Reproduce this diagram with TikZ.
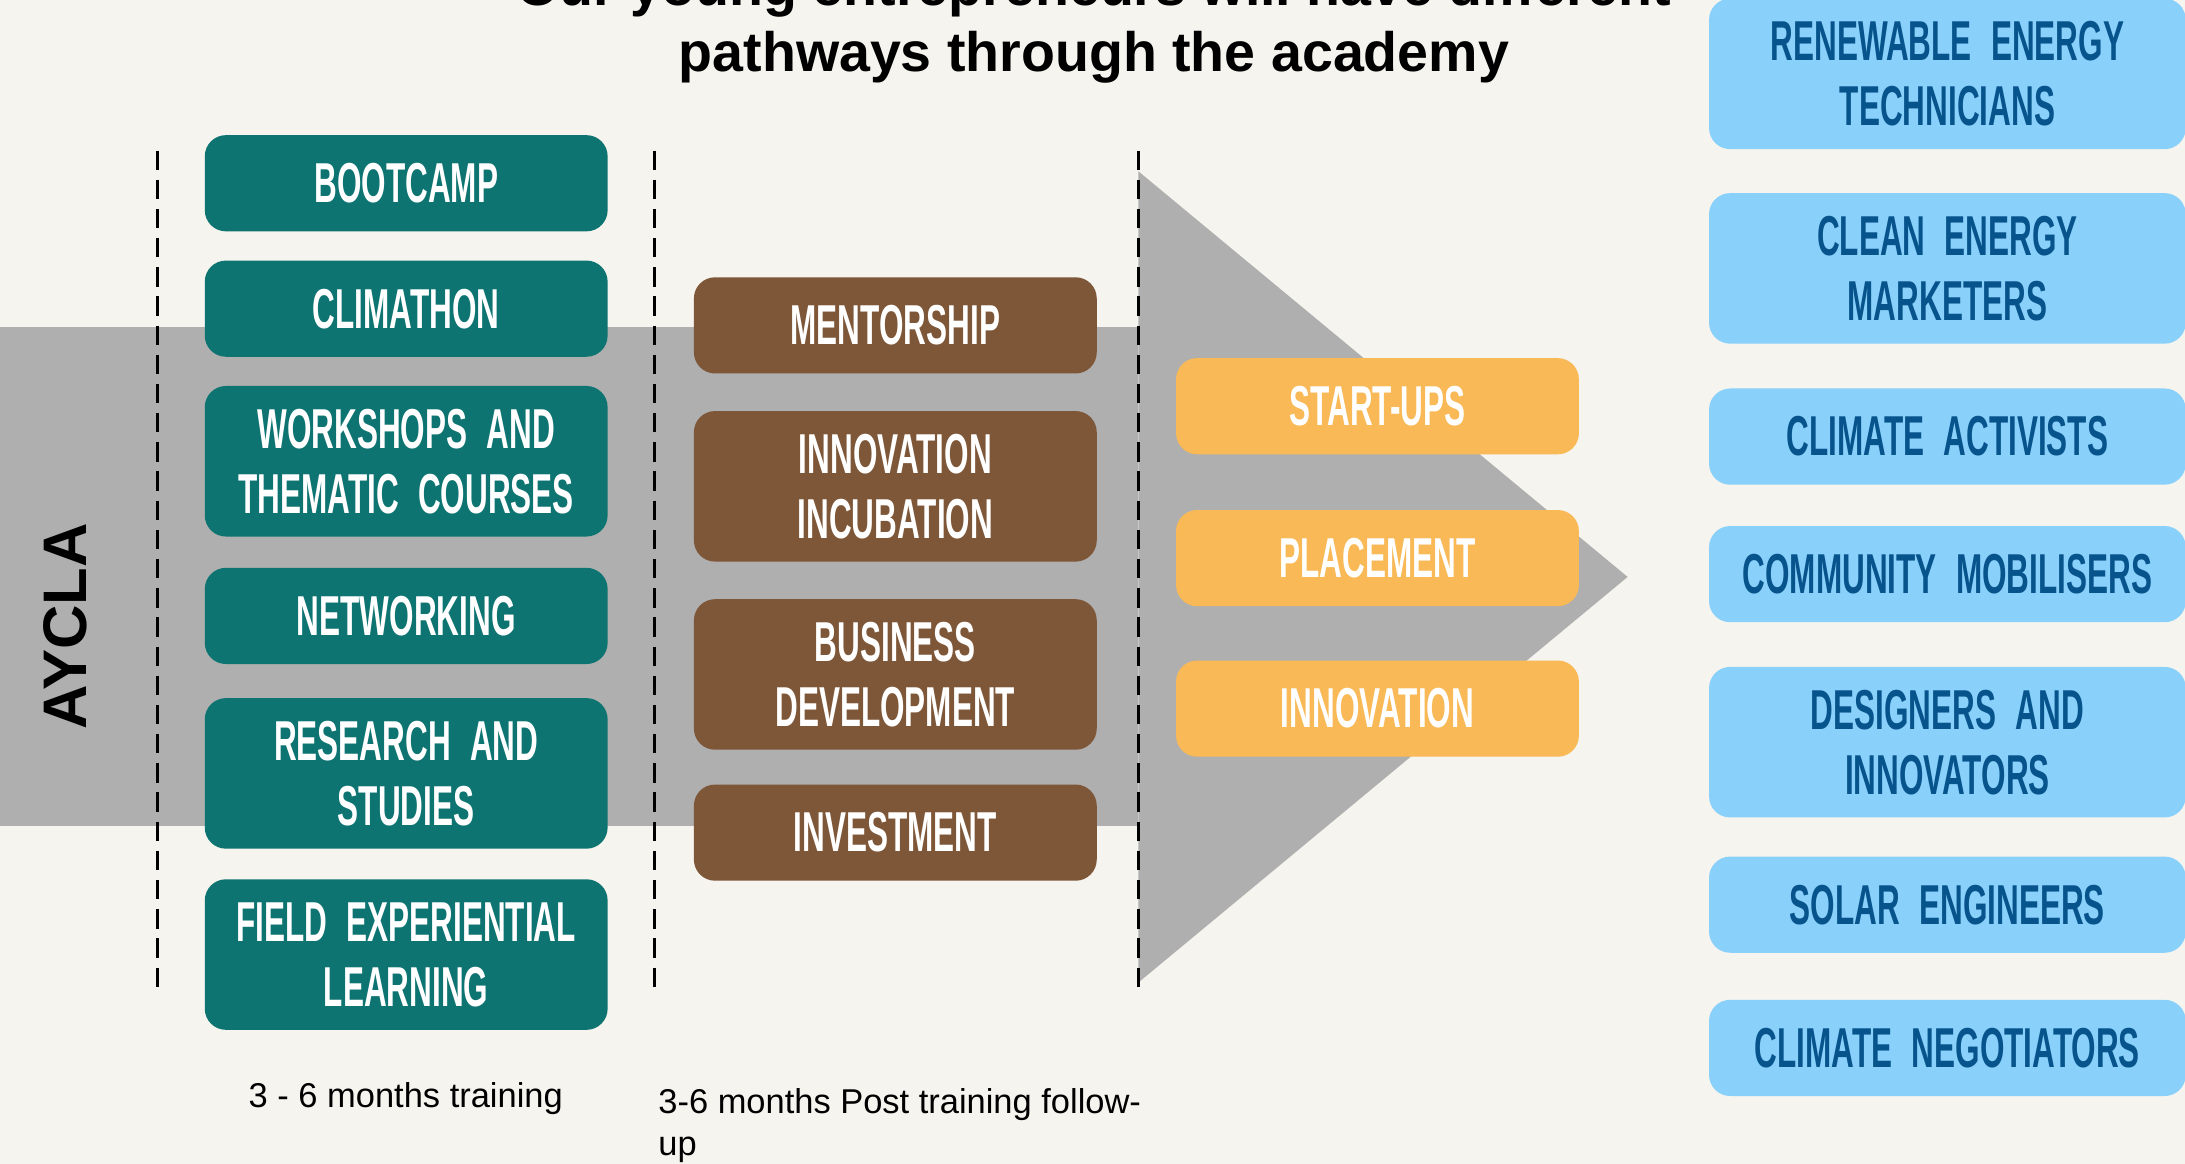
\documentclass[tikz,border=0pt]{standalone}
\usepackage{fontspec}
\usepackage{xcolor}
\usepackage{tikz}
\setmainfont{Liberation Sans}
\newfontfamily\stampfont{Liberation Sans}[FakeStretch=0.56, WordSpace=2.2]
\definecolor{paper}{RGB}{245,244,238}
\definecolor{bandgray}{RGB}{175,175,175}
\definecolor{ayteal}{RGB}{14,116,113}
\definecolor{aybrown}{RGB}{126,87,56}
\definecolor{ayorange}{RGB}{248,185,86}
\definecolor{aysky}{RGB}{137,208,251}
\definecolor{ayink}{RGB}{7,84,140}
\newcommand{\pxu}{0.3965pt}
\tikzset{
    pathbox/.style={rounded corners=6pt, inner sep=0pt, align=center,
        minimum width=289*\pxu, minimum height=69*\pxu,
        font=\stampfont\bfseries\fontsize{16}{18.5}\selectfont},
    tall/.style={minimum height=108*\pxu},
    training/.style={pathbox, fill=ayteal, text=white},
    followup/.style={pathbox, fill=aybrown, text=white},
    outcome/.style={pathbox, fill=ayorange, text=white},
    career/.style={pathbox, fill=aysky, text=ayink, minimum width=342*\pxu},
    divider/.style={dash pattern=on 5.5pt off 2.8pt, line width=0.85pt},
    headline/.style={inner sep=0pt, font=\bfseries\fontsize{15.8}{19}\selectfont},
    note/.style={inner sep=0pt, font=\fontsize{9.8}{11.9}\selectfont}
}

\begin{document}
\begin{tikzpicture}[x=0.013935cm, y=-0.013935cm]
    \useasboundingbox (0,0) rectangle (1568,835);
    \fill[paper] (0,0) rectangle (1568,835);
    \fill[bandgray] (0,235) rectangle (817,593);
    \fill[bandgray] (817,123) -- (1168,414) -- (817,705) -- cycle;
    \foreach \xd in {113,470,817}
        \draw[divider] (\xd,108) -- (\xd,712);

    \node[headline, anchor=base] (title1) at (785,3.6) {Our young entrepreneurs will have different};
    \node[headline, anchor=base] (title2) at (785,51) {pathways through the academy};

    \node[rotate=90, inner sep=0pt, font=\bfseries\fontsize{17.5}{20}\selectfont] (aycla) at (47,449.6) {AYCLA};

    \node[training] (bootcamp) at (291.5,131.5) {BOOTCAMP};
    \node[training] (climathon) at (291.5,221.5) {CLIMATHON};
    \node[training, tall] (workshops) at (291.5,331) {WORKSHOPS AND\\THEMATIC COURSES};
    \node[training] (networking) at (291.5,442) {NETWORKING};
    \node[training, tall] (research) at (291.5,555) {RESEARCH AND\\STUDIES};
    \node[training, tall] (field) at (291.5,685) {FIELD EXPERIENTIAL\\LEARNING};

    \node[followup] (mentor) at (642.5,233.5) {MENTORSHIP};
    \node[followup, tall] (incub) at (642.5,349) {INNOVATION\\INCUBATION};
    \node[followup, tall] (busdev) at (642.5,484) {BUSINESS\\DEVELOPMENT};
    \node[followup] (invest) at (642.5,597.5) {INVESTMENT};

    \node[outcome] (startups) at (988.5,291.5) {START-UPS};
    \node[outcome] (placement) at (988.5,400.5) {PLACEMENT};
    \node[outcome] (innovation) at (988.5,508.5) {INNOVATION};

    \node[career, tall] (renewable) at (1397.5,53) {RENEWABLE ENERGY\\TECHNICIANS};
    \node[career, tall] (marketers) at (1397.5,192.6) {CLEAN ENERGY\\MARKETERS};
    \node[career] (activists) at (1397.5,313.3) {CLIMATE ACTIVISTS};
    \node[career] (mobilisers) at (1397.5,412) {COMMUNITY MOBILISERS};
    \node[career, tall] (designers) at (1397.5,532.6) {DESIGNERS AND\\INNOVATORS};
    \node[career] (solar) at (1397.5,649.2) {SOLAR ENGINEERS};
    \node[career] (negotiators) at (1397.5,752) {CLIMATE NEGOTIATORS};

    \node[note, anchor=base west] (trainnote) at (178,795) {3 - 6 months training};
    \node[note, anchor=base west, align=left] (follownote) at (472,829) {3-6 months Post training follow-\\up};
\end{tikzpicture}
\end{document}
